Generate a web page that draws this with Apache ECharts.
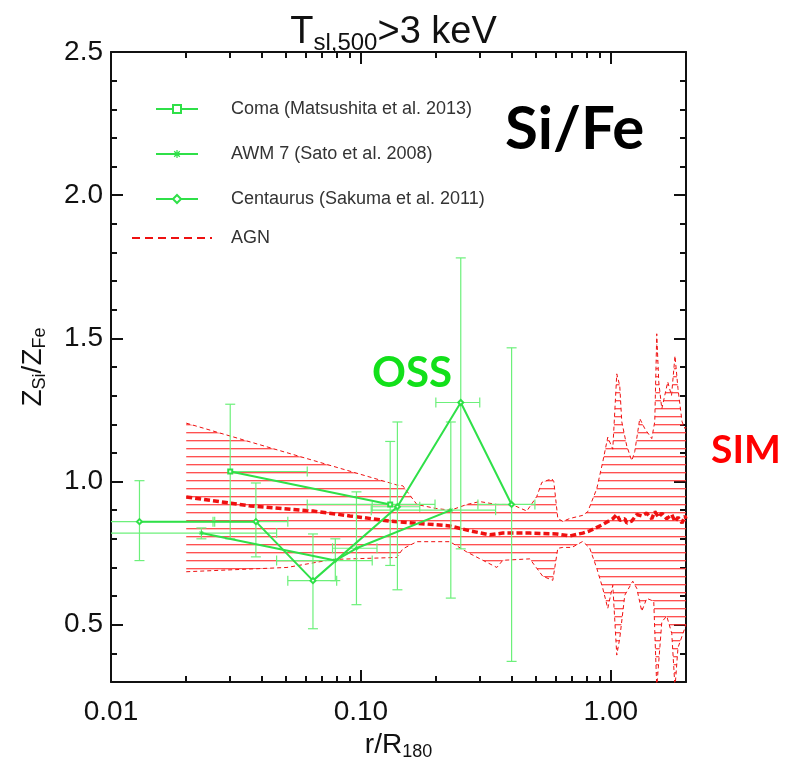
<!DOCTYPE html>
<html><head><meta charset="utf-8">
<script src="https://cdn.jsdelivr.net/npm/echarts@6/dist/echarts.min.js"></script>
<style>html,body{margin:0;padding:0;background:#fff}#c{width:787px;height:762px}</style>
</head><body><div id="c"></div>
<script>
// ---------------- data ----------------
const xMajorTicks = [0.01, 0.1, 1];
const xTickLabels = ['0.01', '0.10', '1.00'];
const xMinorTicks = [0.02,0.03,0.04,0.05,0.06,0.07,0.08,0.09,0.2,0.3,0.4,0.5,0.6,0.7,0.8,0.9,2];
const yMajorTicks = [0.5, 1.0, 1.5, 2.0, 2.5];
const yTickLabels = ['0.5', '1.0', '1.5', '2.0', '2.5'];
const yMinorTicks = [0.4,0.6,0.7,0.8,0.9,1.1,1.2,1.3,1.4,1.6,1.7,1.8,1.9,2.1,2.2,2.3,2.4];

const comaName = 'Coma (Matsushita et al. 2013)';
const comaX   = [0.030, 0.131];
const comaY   = [1.035, 0.920];
const comaXLo = [0.030, 0.061];
const comaXHi = [0.061, 0.198];
const comaYLo = [0.800, 0.707];
const comaYHi = [1.270, 1.140];

const awmName = 'AWM 7 (Sato et al. 2008)';
const awmX   = [0.023, 0.079, 0.096, 0.229];
const awmY   = [0.820, 0.724, 0.767, 0.900];
const awmXLo = [0.008, 0.046, 0.077, 0.110];
const awmXHi = [0.046, 0.111, 0.116, 0.346];
const awmYLo = [0.800, 0.654, 0.570, 0.593];
const awmYHi = [0.838, 0.800, 0.964, 1.208];

const cenName = 'Centaurus (Sakuma et al. 2011)';
const cenX   = [0.013, 0.038, 0.0643, 0.140, 0.251, 0.401];
const cenY   = [0.860, 0.860, 0.654, 0.912, 1.276, 0.920];
const cenXLo = [0.008, 0.026, 0.051, 0.111, 0.1995, 0.294];
const cenXHi = [0.0256, 0.051, 0.080, 0.172, 0.299, 0.497];
const cenYLo = [0.724, 0.737, 0.486, 0.622, 0.765, 0.372];
const cenYHi = [1.003, 0.995, 0.817, 1.208, 1.781, 1.467];

const simUpperX = [0.020,0.1393,0.1472,0.1675,0.1995,0.229,0.2655,0.2992,0.3499,0.4018,0.4613,0.5058,0.5297,0.5808,0.5916,0.6138,0.6427,0.6855,0.7727,0.8091,0.879,0.929,0.9727,1.0186,1.0568,1.0864,1.1066,1.1588,1.2134,1.2474,1.3062,1.3677,1.4588,1.4997,1.5276,1.556,1.6005,1.6904,1.75,1.8072,1.8577,1.9285,1.982,2.0];
const simUpperY = [1.204,0.988,0.985,0.920,0.906,0.900,0.920,0.930,0.920,0.920,0.897,0.948,0.997,1.010,1.000,0.871,0.861,0.871,0.882,0.895,0.975,1.069,1.155,1.113,1.376,1.334,1.209,1.124,1.073,1.105,1.220,1.185,1.150,1.209,1.516,1.348,1.254,1.348,1.30,1.439,1.324,1.209,1.185,1.190];
const simLowerX = [0.020,0.0506,0.0773,0.1393,0.1472,0.1675,0.227,0.2655,0.3076,0.3499,0.3698,0.4742,0.5058,0.5346,0.5861,0.6138,0.6427,0.6995,0.7727,0.8241,0.879,0.929,0.9727,1.0186,1.0568,1.0864,1.1376,1.2246,1.2706,1.3305,1.3932,1.4859,1.5276,1.6005,1.6749,1.7539,1.8072,1.8577,1.9462,2.0];
const simLowerY = [0.685,0.700,0.728,0.735,0.765,0.790,0.790,0.754,0.725,0.700,0.725,0.730,0.697,0.669,0.655,0.767,0.770,0.770,0.791,0.767,0.697,0.627,0.557,0.638,0.394,0.453,0.603,0.652,0.627,0.547,0.592,0.582,0.280,0.510,0.530,0.470,0.280,0.420,0.470,0.500];
const simMedX = [0.020,0.036,0.0643,0.0904,0.1306,0.227,0.273,0.328,0.3698,0.4742,0.6081,0.6855,0.7727,0.8241,0.929,1.0186,1.0568,1.0864,1.1376,1.1588,1.2134,1.2706,1.3305,1.3932,1.4588,1.4997,1.556,1.6005,1.6749,1.7539,1.8072,1.8577,1.9285,1.982,2.0];
const simMedY = [0.946,0.915,0.897,0.880,0.862,0.845,0.828,0.814,0.820,0.820,0.817,0.810,0.820,0.828,0.850,0.870,0.885,0.865,0.870,0.855,0.862,0.885,0.880,0.890,0.870,0.895,0.875,0.890,0.870,0.885,0.860,0.875,0.855,0.880,0.870];

// ---------------- chart ----------------
const F = "'Liberation Sans', Arial, sans-serif";
const GREEN = '#2fe048';
const ERR = '#6cf07a';
const RED = '#ee1111';

const zip = (a, b) => a.map((v, i) => [v, b[i]]);
const errRows = (X, Y, XL, XH, YL, YH) => X.map((v, i) => [v, Y[i], XL[i], XH[i], YL[i], YH[i]]);
const errData = [].concat(
  errRows(comaX, comaY, comaXLo, comaXHi, comaYLo, comaYHi),
  errRows(awmX, awmY, awmXLo, awmXHi, awmYLo, awmYHi),
  errRows(cenX, cenY, cenXLo, cenXHi, cenYLo, cenYHi)
);
const bandPoly = zip(simUpperX, simUpperY).concat(zip(simLowerX, simLowerY).reverse());

// hatch pattern
const hc = document.createElement('canvas');
hc.width = 8; hc.height = 8;
const g = hc.getContext('2d');
g.fillStyle = 'rgba(255,50,50,0.85)'; g.fillRect(0, 0, 8, 1);
g.fillStyle = 'rgba(255,50,50,0.3)'; g.fillRect(0, 1, 8, 1);

const CAP = 5;
function renderErr(params, api) {
  const x = api.value(0), y = api.value(1);
  const xl = api.value(2), xh = api.value(3), yl = api.value(4), yh = api.value(5);
  const c = api.coord([x, y]);
  const pl = api.coord([xl, y]), ph = api.coord([xh, y]);
  const pb = api.coord([x, yl]), pt = api.coord([x, yh]);
  const st = { stroke: ERR, lineWidth: 1.2 };
  const L = (x1, y1, x2, y2) => ({ type: 'line', shape: { x1, y1, x2, y2 }, style: st });
  const ch = [
    L(c[0], pb[1], c[0], pt[1]),
    L(c[0] - CAP, pb[1], c[0] + CAP, pb[1]),
    L(c[0] - CAP, pt[1], c[0] + CAP, pt[1]),
    L(pl[0], c[1], ph[0], c[1]),
    L(ph[0], c[1] - CAP, ph[0], c[1] + CAP)
  ];
  if (xl < x) ch.push(L(pl[0], c[1] - CAP, pl[0], c[1] + CAP));
  return { type: 'group', children: ch };
}

const ASTER = 'path://M-1.5,-10L1.5,-10L1.5,10L-1.5,10Z M-10,-1.5L10,-1.5L10,1.5L-10,1.5Z M-5.9,-8.1L8.1,5.9L5.9,8.1L-8.1,-5.9Z M5.9,-8.1L8.1,-5.9L-5.9,8.1L-8.1,5.9Z';

const axisBase = (pos, ticks, len, showLine) => ({
  type: 'log', logBase: 10, min: 0.01, max: 2, position: pos, gridIndex: 0,
  axisLine: { show: showLine, lineStyle: { color: '#111', width: 2 } },
  axisTick: { show: true, inside: true, length: len, customValues: ticks, lineStyle: { color: '#111', width: 2 } },
  axisLabel: { show: false }, splitLine: { show: false }, minorTick: { show: false }
});
const yBase = (pos, ticks, len, showLine) => ({
  type: 'value', min: 0.3, max: 2.5, position: pos, gridIndex: 0,
  axisLine: { show: showLine, lineStyle: { color: '#111', width: 2 } },
  axisTick: { show: true, inside: true, length: len, customValues: ticks, lineStyle: { color: '#111', width: 2 } },
  axisLabel: { show: false }, splitLine: { show: false }
});

const xMain = axisBase('bottom', xMajorTicks, 12, true);
xMain.axisLabel = { show: true, customValues: xMajorTicks, fontSize: 28, fontFamily: F, color: '#111', margin: 16,
  formatter: v => xTickLabels[xMajorTicks.findIndex(t => Math.abs(t - v) < 1e-9)] };
xMain.name = '{m|r/R}{s|180}';
xMain.nameLocation = 'middle';
xMain.nameGap = 38;
xMain.nameTextStyle = { rich: {
  m: { fontSize: 28, fontFamily: F, color: '#111', lineHeight: 32 },
  s: { fontSize: 18, fontFamily: F, color: '#111', lineHeight: 20, verticalAlign: 'bottom' } } };

const yMain = yBase('left', yMajorTicks, 12, true);
yMain.axisLabel = { show: true, customValues: yMajorTicks, fontSize: 28, fontFamily: F, color: '#111', margin: 8,
  formatter: v => yTickLabels[yMajorTicks.findIndex(t => Math.abs(t - v) < 1e-9)] };
yMain.name = '{m|Z}{s|Si}{m|/Z}{s|Fe}';
yMain.nameLocation = 'middle';
yMain.nameRotate = 90;
yMain.nameGap = 62;
yMain.nameTextStyle = { rich: {
  m: { fontSize: 28, fontFamily: F, color: '#111', lineHeight: 32 },
  s: { fontSize: 18, fontFamily: F, color: '#111', lineHeight: 20, verticalAlign: 'bottom' } } };

const legendText = pad => ({ fontSize: 18, fontFamily: F, color: '#333', padding: [0, 0, 0, pad], lineHeight: 20 });

const option = {
  animation: false,
  backgroundColor: '#fff',
  title: {
    text: '{t|T}{s|sl,500}{t|>3 keV}', left: 'center', top: 6,
    textStyle: { fontWeight: 'normal', rich: {
      t: { fontSize: 38, fontFamily: F, fontWeight: 'normal', color: '#111', lineHeight: 44 },
      s: { fontSize: 24, fontFamily: F, fontWeight: 'normal', color: '#111', lineHeight: 28, verticalAlign: 'bottom' } } }
  },
  grid: { left: 111, top: 52, width: 575, height: 630, containLabel: false, outerBoundsMode: 'none' },
  xAxis: [
    xMain,
    axisBase('bottom', xMinorTicks, 6, false),
    axisBase('top', xMajorTicks, 12, true),
    axisBase('top', xMinorTicks, 6, false)
  ],
  yAxis: [
    yMain,
    yBase('left', yMinorTicks, 6, false),
    yBase('right', yMajorTicks, 12, true),
    yBase('right', yMinorTicks, 6, false)
  ],
  legend: [
    { data: [comaName], left: 150, top: 94, itemWidth: 42, itemHeight: 10, selectedMode: false, textStyle: legendText(28) },
    { data: [awmName], left: 150, top: 139, itemWidth: 42, itemHeight: 10, selectedMode: false, textStyle: legendText(28) },
    { data: [cenName], left: 150, top: 184, itemWidth: 42, itemHeight: 10, selectedMode: false, textStyle: legendText(28) },
    { data: [{ name: 'AGN', itemStyle: { opacity: 0 }, lineStyle: { width: 2, type: [8, 5], color: RED } }],
      left: 126, top: 223, itemWidth: 80, itemHeight: 10, selectedMode: false, textStyle: legendText(14) }
  ],
  graphic: [
    { type: 'text', left: 505, top: 100, style: { text: 'Si/Fe', font: "bold 60px Lato, 'Open Sans', sans-serif", fill: '#000' } },
    { type: 'text', left: 372, top: 352, style: { text: 'OSS', font: "bold 42px Lato, 'Open Sans', sans-serif", fill: '#12e01a' } },
    { type: 'text', left: 711, top: 431, style: { text: 'SIM', font: "bold 39px Lato, 'Open Sans', sans-serif", fill: '#ff0000' } }
  ],
  series: [
    {
      type: 'custom', name: 'band', coordinateSystem: 'cartesian2d', clip: true, silent: true, z: 1,
      data: bandPoly, encode: { x: 0, y: 1 },
      renderItem: (params, api) => {
        if (params.dataIndex !== 0) return null;
        const pts = bandPoly.map(p => api.coord(p));
        return { type: 'polygon', shape: { points: pts }, style: { fill: { image: hc, repeat: 'repeat' }, stroke: null } };
      }
    },
    { type: 'line', name: 'upper', data: zip(simUpperX, simUpperY), symbol: 'none', z: 2, silent: true,
      lineStyle: { color: RED, width: 1, type: [4, 3] } },
    { type: 'line', name: 'lower', data: zip(simLowerX, simLowerY), symbol: 'none', z: 2, silent: true,
      lineStyle: { color: RED, width: 1, type: [4, 3] } },
    { type: 'line', name: 'AGN', data: zip(simMedX, simMedY), symbol: 'none', z: 3, silent: true,
      itemStyle: { color: RED }, lineStyle: { color: RED, width: 3.5, type: [6, 3] } },
    {
      type: 'custom', name: 'errors', coordinateSystem: 'cartesian2d', clip: true, silent: true, z: 4,
      data: errData, encode: { x: 0, y: 1 }, renderItem: renderErr
    },
    { type: 'line', name: comaName, data: zip(comaX, comaY), symbol: 'emptyRect', symbolSize: 4, z: 5,
      itemStyle: { color: GREEN, borderWidth: 2 }, lineStyle: { color: GREEN, width: 2 } },
    { type: 'line', name: awmName, data: zip(awmX, awmY), symbol: ASTER, symbolSize: 5, z: 5,
      itemStyle: { color: GREEN }, lineStyle: { color: GREEN, width: 2 } },
    { type: 'line', name: cenName, data: zip(cenX, cenY), symbol: 'emptyDiamond', symbolSize: 5, z: 5,
      itemStyle: { color: GREEN, borderWidth: 2 }, lineStyle: { color: GREEN, width: 2 } }
  ]
};

const chart = echarts.init(document.getElementById('c'), null, { renderer: 'canvas' });
chart.setOption(option);
</script>
</body></html>
